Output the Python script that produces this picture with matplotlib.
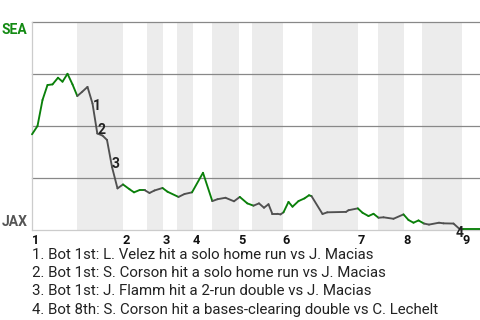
import numpy as np
import matplotlib
matplotlib.use("Agg")
import matplotlib.pyplot as plt
from matplotlib.transforms import blended_transform_factory

plt.rcParams['font.family'] = ['Roboto', 'DejaVu Sans']

# posicao de cada jogada (em jogadas) e prob. de vitoria do SEA (%)
jogada_x = [0, 1.1, 2.1, 3.1, 4.1, 5.2, 6.1, 7.1, 8.1, 9.06, 10.06, 11.1,
            12.1, 13.06, 14.1, 15.0, 16.0, 17.1, 18.2, 19.5, 20.4, 21.5,
            22.5, 23.5, 24.5, 26.1, 27.1, 29.3, 30.5, 32.0, 34.2, 36.06,
            37.1, 38.7, 40.4, 41.56, 43.06, 44.3, 45.4, 46.4, 47.3, 48.06,
            49.06, 49.7, 50.3, 51.3, 52.1, 53.3, 54.5, 55.4, 55.9, 58.1,
            59.06, 62.8, 63.3, 65.16, 66.1, 67.3, 68.3, 69.3, 70.3, 72.3,
            74.3, 75.3, 76.3, 77.3, 78.4, 79.4, 81.4, 82.3, 84.3, 85.6,
            86.2, 89.6]
prob_sea = [46.0, 50.0, 62.5, 69.7, 70.0, 73.2, 71.3, 75.1, 70.0, 64.4,
            66.5, 68.8, 60.8, 46.4, 45.4, 43.3, 30.3, 20.0, 21.9, 19.6,
            18.1, 19.2, 19.2, 17.8, 19.0, 20.2, 18.4, 15.9, 17.3, 18.1,
            27.5, 13.9, 14.8, 15.5, 13.8, 15.9, 12.8, 11.7, 12.8, 10.7,
            12.4, 7.8, 7.8, 7.5, 8.5, 13.5, 11.2, 13.9, 15.2, 16.7, 16.3,
            7.7, 8.5, 8.7, 9.5, 10.4, 8.3, 6.7, 7.8, 5.9, 6.1, 5.4, 7.5,
            4.8, 3.5, 4.6, 3.1, 2.6, 3.5, 3.2, 3.1, 0.3, 0.4, 0.4]

# limites das meias-entradas (alto, baixo, alto, ...)
limites = [0, 9, 18.1, 22.9, 26.1, 28.9, 32.1, 36, 41.3, 44, 50.1, 56,
           65.1, 69.1, 74.3, 77.9, 86.1, 89.6]
entradas = ['1', '2', '3', '4', '5', '6', '7', '8', '9']

# jogadas marcadas (indice na lista) e descricao
eventos_idx = [12, 13, 16, 71]
eventos_txt = [
    "1. Bot 1st: L. Velez hit a solo home run vs J. Macias",
    "2. Bot 1st: S. Corson hit a solo home run vs J. Macias",
    "3. Bot 1st: J. Flamm hit a 2-run double vs J. Macias",
    "4. Bot 8th: S. Corson hit a bases-clearing double vs C. Lechelt",
]

VERDE = '#0a800a'
CINZA = '#505050'

fig = plt.figure(figsize=(4.8, 3.2), dpi=100)
ax = fig.add_axes([32 / 480, 90 / 320, 448 / 480, 208 / 320])
ax.set_xlim(limites[0], limites[-1])
ax.set_ylim(0, 100)

# faixas cinzas nas partes baixas das entradas
for i in range(1, len(limites) - 1, 2):
    ax.axvspan(limites[i], limites[i + 1], color='#ececec', lw=0, zorder=0)

for g in [25, 50, 75, 100]:
    ax.axhline(g, color='#888888', lw=0.9, zorder=1, clip_on=False)

# segmentos coloridos conforme o time rebatendo
for k in range(len(jogada_x) - 1):
    meio = 0.5 * (jogada_x[k] + jogada_x[k + 1])
    meia = np.searchsorted(limites, meio) - 1
    cor = VERDE if meia % 2 == 0 else CINZA
    ax.plot(jogada_x[k:k + 2], prob_sea[k:k + 2], color=cor, lw=1.35,
            solid_capstyle='round', zorder=3, clip_on=False)

offsets = [(0.5, -6.5), (0, -0.5), (-0.3, -1), (-4, -8)]
for n, (i, (dx, dy)) in enumerate(zip(eventos_idx, offsets)):
    ax.annotate(str(n + 1), (jogada_x[i], prob_sea[i]),
                xytext=(dx * 0.72, dy * 0.72), textcoords='offset points',
                ha='left', va='baseline', fontsize=10, fontweight='bold',
                color='#222222', zorder=4)

for s in ['top', 'right']:
    ax.spines[s].set_visible(False)
for s in ['left', 'bottom']:
    ax.spines[s].set_color('#cccccc')
    ax.spines[s].set_linewidth(0.9)
ax.set_xticks([])
ax.set_yticks([])

trans = blended_transform_factory(ax.transData, ax.transAxes)
for j, lab in enumerate(entradas):
    ax.text(limites[2 * j] + 0.05, -0.065, lab, transform=trans, ha='left',
            va='baseline', fontsize=9.2, fontweight='bold', color='#111111')

fig.text(2 / 480, 1 - 34.3 / 320, 'SEA', color='#138a13', fontsize=10,
         fontweight='bold', va='baseline', ha='left')
fig.text(2 / 480, 1 - 226 / 320, 'JAX', color='#555555', fontsize=10,
         fontweight='bold', va='baseline', ha='left')

for k, t in enumerate(eventos_txt):
    fig.text(32 / 480, 1 - (258.7 + 18.35 * k) / 320, t, fontsize=10.85,
             color='#222222', ha='left', va='baseline')

fig.savefig('out.png', dpi=100)
